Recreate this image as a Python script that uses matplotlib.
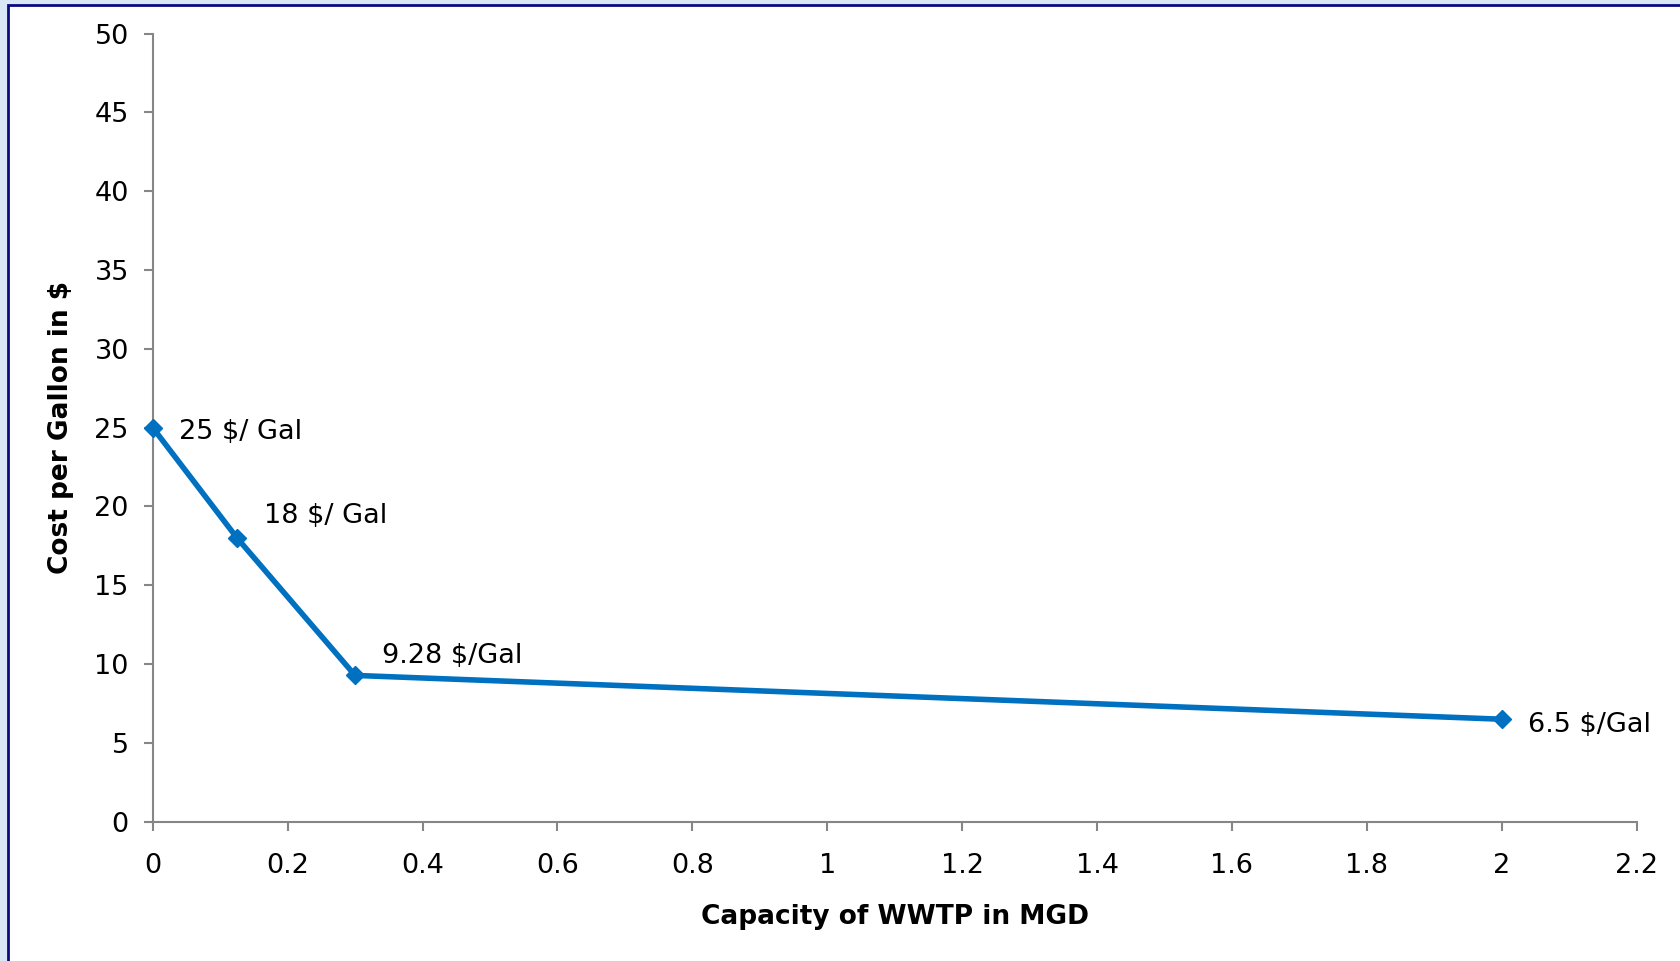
import matplotlib
matplotlib.use("Agg")
import matplotlib.pyplot as plt
from matplotlib.patches import Rectangle

# Plant capacity (MGD) and unit cost ($ per gallon)
capacity = [0.0, 0.125, 0.3, 2.0]
cost = [25.0, 18.0, 9.28, 6.5]
point_labels = ["25 $/ Gal", "18 $/ Gal", "9.28 $/Gal", "6.5 $/Gal"]
label_offsets = [(26, -4), (27, 22), (27, 19), (26, -6)]  # pixel offsets of labels

x_ticks = [0, 0.2, 0.4, 0.6, 0.8, 1, 1.2, 1.4, 1.6, 1.8, 2, 2.2]
x_tick_labels = ["0", "0.2", "0.4", "0.6", "0.8", "1", "1.2", "1.4", "1.6", "1.8", "2", "2.2"]
y_ticks = [0, 5, 10, 15, 20, 25, 30, 35, 40, 45, 50]

W, H, DPI = 1680, 961, 100
fig = plt.figure(figsize=(W / DPI, H / DPI), dpi=DPI, facecolor="#d9e6f6")

# white chart area with a navy frame
frame = Rectangle((8 / W, 0 - 0.01), 1.0, 1 - 5 / H + 0.01, transform=fig.transFigure,
                  facecolor="white", edgecolor="#0a0a80", linewidth=2.0, zorder=-10)
fig.patches.append(frame)

ax = fig.add_axes([152.7 / W, 1 - 821.7 / H, (1636.7 - 152.7) / W, (821.7 - 33.5) / H])
ax.set_facecolor("none")
ax.set_zorder(5)

FS = 19.5
FS_AXIS = 19
line_color = "#0070C0"
ax.plot(capacity, cost, color=line_color, linewidth=4.0, marker="D",
        markersize=9.5, markerfacecolor=line_color, markeredgecolor=line_color,
        clip_on=False, zorder=3)

for x, y, txt, (dx, dy) in zip(capacity, cost, point_labels, label_offsets):
    ax.annotate(txt, xy=(x, y), xytext=(dx * 72 / DPI, dy * 72 / DPI),
                textcoords="offset points", ha="left", va="center",
                fontsize=FS, color="black")

ax.set_xlim(0, 2.2)
ax.set_ylim(0, 50)
ax.set_xticks(x_ticks)
ax.set_xticklabels(x_tick_labels)
ax.set_yticks(y_ticks)

grey = "#868686"
for side in ("top", "right"):
    ax.spines[side].set_visible(False)
for side in ("left", "bottom"):
    ax.spines[side].set_color(grey)
    ax.spines[side].set_linewidth(1.5)

ax.tick_params(axis="both", direction="out", length=6.2, width=1.5, color=grey,
               labelsize=FS, labelcolor="black")
ax.tick_params(axis="x", pad=16)
ax.tick_params(axis="y", pad=11)

ax.set_xlabel("Capacity of WWTP in MGD", fontsize=FS_AXIS, fontweight="bold", labelpad=18)
ax.set_ylabel("Cost per Gallon in $", fontsize=FS_AXIS, fontweight="bold", labelpad=15)

fig.savefig("out.png", dpi=DPI, facecolor=fig.get_facecolor())
